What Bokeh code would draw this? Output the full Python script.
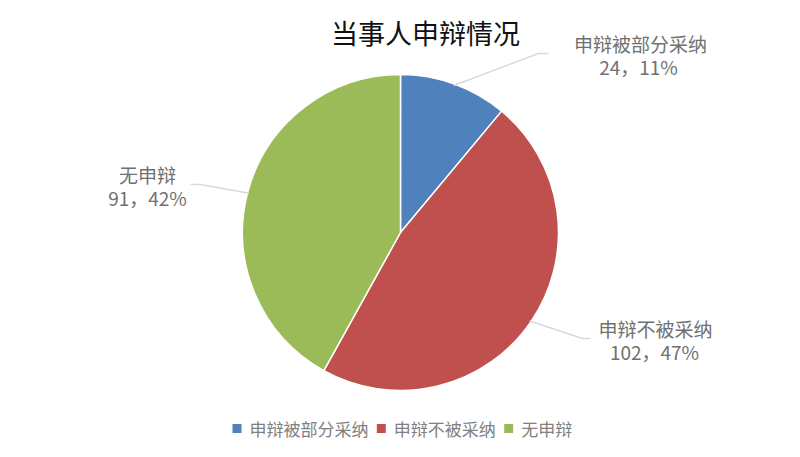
import math
from bokeh.plotting import figure
from bokeh.models import Range1d, ColumnDataSource
from bokeh.core.properties import value
from bokeh.embed import file_html
from bokeh.resources import INLINE

# ---- data ----
title_text = "当事人申辩情况"
categories = ["申辩被部分采纳", "申辩不被采纳", "无申辩"]
counts = [24, 102, 91]
colors = ["#4F81BD", "#C0504D", "#9BBB59"]

FONT = "Noto Sans CJK SC"
W, H = 784, 441
OFF = 0  # page offset of the figure as observed
CX, CY = 400, 232  # pie centre in page pixels
R = 158

def dx(px):
    return px - CX

def dy(py):
    return CY - py

p = figure(width=W, height=H, output_backend="svg", toolbar_location=None,
           x_range=Range1d(dx(OFF), dx(OFF + W)), y_range=Range1d(dy(OFF + H), dy(OFF)),
           min_border=0, background_fill_color="white", border_fill_color="white")
p.axis.visible = False
p.grid.visible = False
p.outline_line_color = None

total = sum(counts)
starts, ends, mids = [], [], []
acc = 0.0
for c in counts:
    a0 = math.pi / 2 - 2 * math.pi * acc / total
    acc += c
    a1 = math.pi / 2 - 2 * math.pi * acc / total
    starts.append(a0)
    ends.append(a1)
    mids.append((a0 + a1) / 2)

src = ColumnDataSource(dict(start=starts, end=ends, color=colors, cat=categories, val=counts))
p.wedge(x=0, y=0, radius=R, start_angle="end", end_angle="start", direction="anticlock",
        fill_color="color", line_color="white", line_width=1.5, source=src)

# ---- data labels with leader lines (layout positions in page px) ----
elbows = [(538, 53), (582, 338), (200, 184)]
line_ends = [(548, 53), (590, 338), (190, 184)]
label_pos = [((640, 43), (638, 66)), ((655, 328), (654, 351)), ((147, 174), (147, 197))]

for i, c in enumerate(counts):
    m = mids[i]
    sx, sy = R * 0.99 * math.cos(m), R * 0.99 * math.sin(m)
    ex, ey = elbows[i]
    fx, fy = line_ends[i]
    p.line([sx, dx(ex), dx(fx)], [sy, dy(ey), dy(fy)], line_color="#D9D9D9", line_width=1.5)
    pct = round(100 * c / total)
    (l1x, l1y), (l2x, l2y) = label_pos[i]
    p.text(x=[dx(l1x)], y=[dy(l1y)], text=[categories[i]], text_font=value(FONT),
           text_font_size="19px", text_color="#707070", text_align="center", text_baseline="middle")
    p.text(x=[dx(l2x)], y=[dy(l2y)], text=[f"{c}，{pct}%"], text_font=value(FONT),
           text_font_size="19px", text_color="#707070", text_align="center", text_baseline="middle")

# ---- title ----
p.text(x=[dx(425)], y=[dy(32)], text=[title_text], text_font=value(FONT),
       text_font_size="27px", text_color="#111111", text_align="center", text_baseline="middle")

# ---- legend (manual) ----
lx = 232
ly = 428
for i, cat in enumerate(categories):
    p.rect(x=[dx(lx + 4.5)], y=[dy(ly)], width=9, height=9, fill_color=colors[i], line_color=None)
    p.text(x=[dx(lx + 17)], y=[dy(ly)], text=[cat], text_font=value(FONT),
           text_font_size="17px", text_color="#808080", text_align="left", text_baseline="middle")
    lx += 17 + len(cat) * 16.9 + 9

open("out.html", "w").write(file_html(p, INLINE))
